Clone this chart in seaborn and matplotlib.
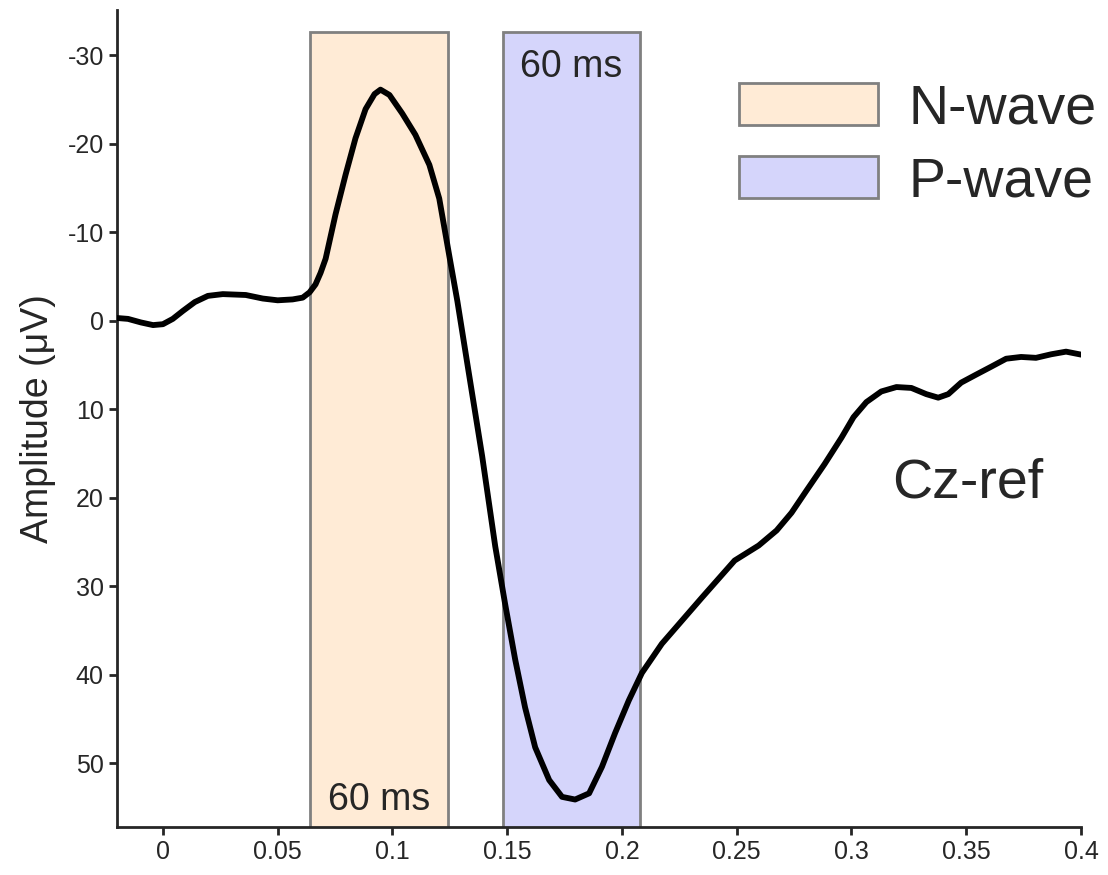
import numpy as np
import pandas as pd
import matplotlib
matplotlib.use("Agg")
import matplotlib.pyplot as plt
from matplotlib.patches import Rectangle, Patch
import seaborn as sns

# ERP trace (time in s, amplitude in uV)
time_s = [-0.02, -0.0152, -0.0096, -0.0043, 0.0, 0.0043, 0.0087, 0.0139, 0.0196, 0.0261,
          0.0361, 0.0435, 0.05, 0.0565, 0.0609, 0.0639, 0.0665, 0.0687, 0.0709, 0.0752,
          0.0796, 0.0839, 0.0883, 0.0922, 0.0948, 0.0987, 0.1043, 0.11, 0.1161, 0.1204,
          0.1248, 0.1283, 0.1326, 0.1391, 0.1448, 0.1491, 0.1535, 0.1578, 0.1622, 0.1683,
          0.1739, 0.1796, 0.1857, 0.1913, 0.197, 0.203, 0.2087, 0.2174, 0.2261, 0.2348,
          0.2491, 0.2596, 0.2674, 0.2739, 0.2804, 0.2883, 0.2957, 0.3009, 0.3065, 0.313,
          0.3196, 0.3261, 0.3326, 0.3378, 0.3422, 0.3478, 0.3543, 0.3609, 0.3674, 0.3739,
          0.3804, 0.387, 0.3935, 0.4013]
amp_uv = [-0.3, -0.2, 0.2, 0.5, 0.4, -0.2, -1.1, -2.1, -2.8, -3.0,
          -2.9, -2.5, -2.3, -2.4, -2.6, -3.2, -4.1, -5.4, -7.0, -12.0,
          -16.5, -20.6, -23.9, -25.6, -26.1, -25.5, -23.4, -21.0, -17.6, -13.8,
          -7.3, -2.2, 4.8, 15.3, 25.5, 32.0, 38.3, 43.7, 48.2, 51.9,
          53.8, 54.1, 53.4, 50.4, 46.6, 42.9, 39.8, 36.5, 33.9, 31.3,
          27.1, 25.4, 23.7, 21.7, 19.2, 16.2, 13.2, 10.9, 9.2, 8.0,
          7.5, 7.6, 8.3, 8.7, 8.3, 7.0, 6.1, 5.2, 4.3, 4.1,
          4.2, 3.8, 3.5, 3.9]

# analysis windows
wave_names = ["N-wave", "P-wave"]
wave_start = [0.064, 0.148]
wave_len = [0.060, 0.060]
wave_colors = ["#FFEBD6", "#D5D5FB"]
box_top = -32.6

xticks = [0, 0.05, 0.1, 0.15, 0.2, 0.25, 0.3, 0.35, 0.4]
xticklabels = ["0", "0.05", "0.1", "0.15", "0.2", "0.25", "0.3", "0.35", "0.4"]
yticks = [-30, -20, -10, 0, 10, 20, 30, 40, 50]

df = pd.DataFrame({"time": time_s, "amp": amp_uv})

sns.set_style("ticks")
plt.rcParams["font.family"] = ["Liberation Sans", "DejaVu Sans"]
plt.rcParams["axes.unicode_minus"] = False

fig = plt.figure(figsize=(11.08, 8.75), dpi=100)
ax = fig.add_axes([0.1056, 0.0549, 0.870, 0.9337])

# shaded windows
for x0, w, c in zip(wave_start, wave_len, wave_colors):
    ax.add_patch(Rectangle((x0, box_top), w, 100, facecolor=c,
                           edgecolor="#808080", lw=2, zorder=1))

sns.lineplot(data=df, x="time", y="amp", estimator=None, sort=False,
             color="black", lw=4.2, ax=ax, zorder=3,
             solid_joinstyle="round", solid_capstyle="round")

ax.set_xlim(-0.02, 0.4)
ax.set_ylim(57.2, -35.1)
ax.set_xticks(xticks)
ax.set_xticklabels(xticklabels)
ax.set_yticks(yticks)
ax.tick_params(labelsize=18, length=6, width=2, colors="#262626")
for s in ["left", "bottom"]:
    ax.spines[s].set_linewidth(2)
    ax.spines[s].set_color("#262626")
sns.despine(ax=ax)

ax.set_xlabel("")
ax.set_ylabel("Amplitude (\u03bcV)", fontsize=27, color="#262626", labelpad=8)

ax.text(wave_start[0] + wave_len[0] / 2, 55.3, "60 ms", fontsize=27,
        ha="center", va="baseline", color="#262626", zorder=4)
ax.text(wave_start[1] + wave_len[1] / 2, -27.5, "60 ms", fontsize=27,
        ha="center", va="baseline", color="#262626", zorder=4)
ax.text(0.3505, 20.0, "Cz-ref", fontsize=40, ha="center", va="baseline",
        color="#262626")

handles = [Patch(facecolor=c, edgecolor="#808080", lw=2) for c in wave_colors]
leg = ax.legend(handles, wave_names, loc="upper left", bbox_to_anchor=(0.645, 0.911),
                frameon=False, fontsize=40, handlelength=2.5, handleheight=0.8,
                handletextpad=0.55, labelspacing=0.37, borderpad=0, borderaxespad=0)
for t in leg.get_texts():
    t.set_color("#262626")

fig.savefig("out.png", dpi=100)
